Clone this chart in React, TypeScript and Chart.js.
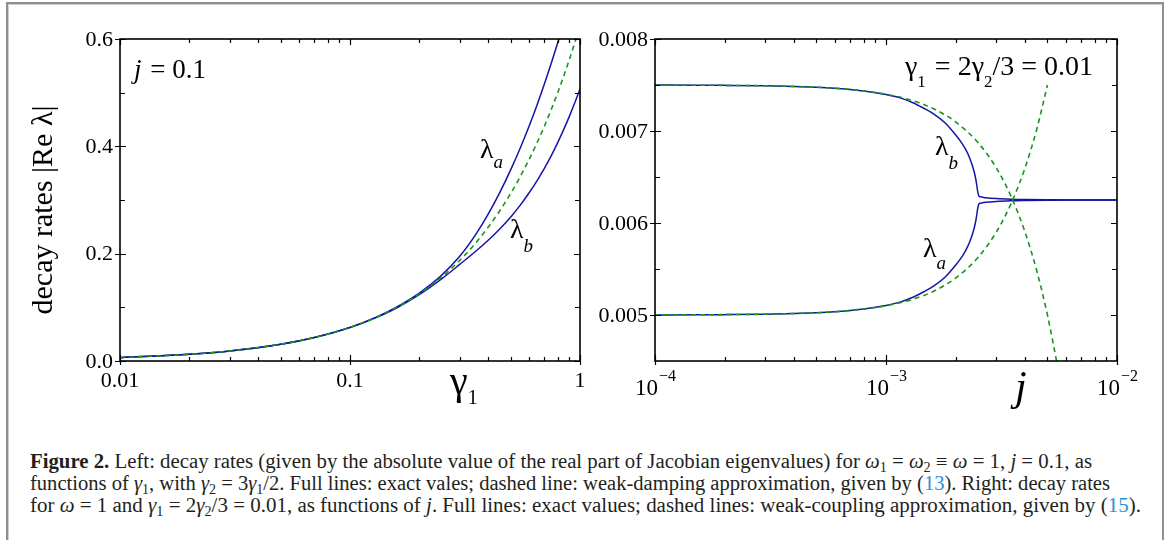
import React, { useEffect, useLayoutEffect, useRef } from "react";
import { Chart, registerables } from "chart.js";
Chart.register(...registerables);

const SERIF = "'Liberation Serif','Times New Roman',serif";

// ---------------- Left panel data (j = 0.1) ----------------
const gammaValues = [0.01, 0.02, 0.03, 0.05, 0.07, 0.1, 0.13, 0.16, 0.2, 0.25, 0.3, 0.35, 0.4, 0.45, 0.5, 0.55, 0.6, 0.65, 0.7, 0.75, 0.8, 0.85, 0.9, 0.95, 1.0];
const lambdaALeft = [0.00625, 0.0125, 0.01875, 0.0313, 0.0438, 0.0627, 0.0817, 0.1008, 0.1265, 0.1595, 0.195, 0.234, 0.2745, 0.3155, 0.3565, 0.397, 0.437, 0.4767, 0.516, 0.5547, 0.593, 0.631, 0.669, 0.7063, 0.743];
const lambdaBLeft = [0.00625, 0.0125, 0.01875, 0.0312, 0.0437, 0.0623, 0.0808, 0.0992, 0.1235, 0.153, 0.18, 0.2035, 0.2255, 0.247, 0.2685, 0.2905, 0.313, 0.3358, 0.359, 0.3828, 0.407, 0.4315, 0.4563, 0.4815, 0.507];
const dampingApprox = [0.00625, 0.0125, 0.01875, 0.03125, 0.04375, 0.0625, 0.08125, 0.1, 0.125, 0.15625, 0.1875, 0.21875, 0.25, 0.28125, 0.3125, 0.34375, 0.375, 0.40625, 0.4375, 0.46875, 0.5, 0.53125, 0.5625, 0.59375, 0.625];
const leftYTicks = [0, 0.2, 0.4, 0.6];
const leftYMinor = [0.1, 0.3, 0.5];
const leftXTicks = [0.01, 0.1, 1];
const leftXLabels = ["0.01", "0.1", "1"];

// ---------------- Right panel data (gamma1 = 0.01) ----------------
const jValues = [1e-4, 1.5e-4, 2e-4, 3e-4, 4e-4, 5e-4, 6e-4, 7e-4, 8e-4, 1e-3, 1.15e-3, 1.3e-3, 1.45e-3, 1.6e-3, 1.8e-3, 2.0e-3, 2.1e-3, 2.2e-3, 2.3e-3, 2.4e-3, 2.45e-3, 2.5e-3, 2.53e-3, 2.6e-3, 2.7e-3, 3e-3, 3.5e-3, 4e-3, 5e-3, 7e-3, 1e-2];
const lambdaBRight = [0.007499, 0.007498, 0.007496, 0.007491, 0.007484, 0.007475, 0.007464, 0.00745, 0.007435, 0.007396, 0.00736, 0.00731, 0.00725, 0.00719, 0.00709, 0.00696, 0.00689, 0.00681, 0.00671, 0.00657, 0.00647, 0.00633, 0.00629, 0.006282, 0.006275, 0.006265, 0.006258, 0.006255, 0.006252, 0.00625, 0.00625];
const lambdaARight = [0.005001, 0.005002, 0.005004, 0.005009, 0.005016, 0.005025, 0.005036, 0.00505, 0.005065, 0.005104, 0.00514, 0.00519, 0.00525, 0.00531, 0.00541, 0.00554, 0.00561, 0.00569, 0.00579, 0.00593, 0.00603, 0.00617, 0.00621, 0.006218, 0.006225, 0.006235, 0.006242, 0.006245, 0.006248, 0.00625, 0.00625];
const jApproxUpper = [1e-4, 2e-4, 3e-4, 5e-4, 7e-4, 1e-3, 1.3e-3, 1.6e-3, 2e-3, 2.5e-3, 3e-3, 3.5e-3, 4e-3, 4.5e-3, 5e-3, 5.5e-3];
const couplingApproxUpper = [0.007499, 0.007496, 0.007491, 0.007475, 0.007451, 0.0074, 0.007331, 0.007244, 0.0071, 0.006875, 0.0066, 0.006275, 0.0059, 0.005475, 0.005, 0.004475];
const jApproxLower = [1e-4, 2e-4, 3e-4, 5e-4, 7e-4, 1e-3, 1.3e-3, 1.6e-3, 2e-3, 2.5e-3, 3e-3, 3.5e-3, 4e-3, 4.5e-3, 5e-3];
const couplingApproxLower = [0.005001, 0.005004, 0.005009, 0.005025, 0.005049, 0.0051, 0.005169, 0.005256, 0.0054, 0.005625, 0.0059, 0.006225, 0.0066, 0.007025, 0.0075];
const rightYTicks = [0.005, 0.006, 0.007, 0.008];
const rightYMinor = [0.0055, 0.0065, 0.0075];
const rightXTicks = [1e-4, 1e-3, 1e-2];
const rightXExponents = ["\u22124", "\u22123", "\u22122"];

const BLUE = "#1414a8";
const GREEN = "#17961b";

function logMinors(min: number, max: number): number[] {
  const out: number[] = [];
  for (let d = min; d < max * 0.999; d *= 10) {
    for (let k = 2; k <= 9; k++) out.push(d * k);
  }
  return out;
}

function pts(xs: number[], ys: number[]) {
  return xs.map((x, i) => ({ x, y: ys[i] }));
}

function drawFrame(chart: any, xMajor: number[], xMinor: number[], yMajor: number[], yMinor: number[]) {
  const { ctx, chartArea: a, scales } = chart;
  const xs = scales.x, ys = scales.y;
  ctx.save();
  ctx.strokeStyle = "#000";
  ctx.lineWidth = 1.2;
  ctx.beginPath();
  for (const v of xMajor) {
    const p = Math.round(xs.getPixelForValue(v)) + 0.5;
    ctx.moveTo(p, a.bottom + 4); ctx.lineTo(p, a.bottom - 6);
    ctx.moveTo(p, a.top); ctx.lineTo(p, a.top + 6);
  }
  for (const v of xMinor) {
    const p = Math.round(xs.getPixelForValue(v)) + 0.5;
    ctx.moveTo(p, a.bottom); ctx.lineTo(p, a.bottom - 4);
    ctx.moveTo(p, a.top); ctx.lineTo(p, a.top + 4);
  }
  for (const v of yMajor) {
    const p = Math.round(ys.getPixelForValue(v)) + 0.5;
    ctx.moveTo(a.left - 5, p); ctx.lineTo(a.left + 6, p);
    ctx.moveTo(a.right, p); ctx.lineTo(a.right - 6, p);
  }
  for (const v of yMinor) {
    const p = Math.round(ys.getPixelForValue(v)) + 0.5;
    ctx.moveTo(a.left, p); ctx.lineTo(a.left + 5, p);
    ctx.moveTo(a.right, p); ctx.lineTo(a.right - 5, p);
  }
  ctx.stroke();
  ctx.lineWidth = 1.6;
  ctx.strokeRect(a.left, a.top, a.right - a.left, a.bottom - a.top);
  ctx.restore();
}

type Part = { t: string; size: number; italic?: boolean; dy?: number; gap?: number };
function drawSeq(ctx: CanvasRenderingContext2D, x: number, base: number, parts: Part[]) {
  ctx.save();
  ctx.fillStyle = "#000";
  ctx.textAlign = "left";
  ctx.textBaseline = "alphabetic";
  let cx = x;
  for (const p of parts) {
    ctx.font = `${p.italic ? "italic " : ""}${p.size}px ${SERIF}`;
    ctx.fillText(p.t, cx, base + (p.dy || 0));
    cx += ctx.measureText(p.t).width + (p.gap || 0);
  }
  ctx.restore();
  return cx;
}

const leftDecor = {
  id: "leftDecor",
  afterDraw(chart: any) {
    const { ctx, chartArea: a, scales } = chart;
    const xs = scales.x, ys = scales.y;
    drawFrame(chart, leftXTicks, logMinors(0.01, 1), leftYTicks, leftYMinor);
    ctx.save();
    ctx.fillStyle = "#000";
    ctx.font = `22px ${SERIF}`;
    ctx.textAlign = "right";
    ctx.textBaseline = "middle";
    leftYTicks.forEach((v) => ctx.fillText(v.toFixed(1), a.left - 7, ys.getPixelForValue(v) + 1));
    ctx.textAlign = "center";
    ctx.textBaseline = "alphabetic";
    leftXTicks.forEach((v, i) => ctx.fillText(leftXLabels[i], xs.getPixelForValue(v), a.bottom + 26));
    ctx.translate(44, (a.top + a.bottom) / 2 + 10);
    ctx.rotate(-Math.PI / 2);
    ctx.font = `30px ${SERIF}`;
    ctx.textBaseline = "middle";
    ctx.fillText("decay rates |Re \u03bb|", 0, 0);
    ctx.restore();
    drawSeq(ctx, 134, 78, [
      { t: "j", size: 27, italic: true, gap: 2 },
      { t: " = 0.1", size: 27 },
    ]);
    drawSeq(ctx, 480, 158, [{ t: "\u03bb", size: 28 }, { t: "a", size: 19, italic: true, dy: 10 }]);
    drawSeq(ctx, 510, 238, [{ t: "\u03bb", size: 28 }, { t: "b", size: 19, italic: true, dy: 14 }]);
    drawSeq(ctx, 450, 394, [{ t: "\u03b3", size: 40 }, { t: "1", size: 20, dy: 10 }]);
  },
};

const rightDecor = {
  id: "rightDecor",
  afterDraw(chart: any) {
    const { ctx, chartArea: a, scales } = chart;
    const xs = scales.x, ys = scales.y;
    drawFrame(chart, rightXTicks, logMinors(1e-4, 1e-2), rightYTicks, rightYMinor);
    ctx.save();
    ctx.fillStyle = "#000";
    ctx.font = `22px ${SERIF}`;
    ctx.textAlign = "right";
    ctx.textBaseline = "middle";
    rightYTicks.forEach((v) => ctx.fillText(v.toFixed(3), a.left - 7, ys.getPixelForValue(v) + 1));
    ctx.textBaseline = "alphabetic";
    rightXTicks.forEach((v, i) => {
      const p = xs.getPixelForValue(v);
      ctx.textAlign = "right";
      ctx.font = `23px ${SERIF}`;
      ctx.fillText("10", p + 3, a.bottom + 34);
      ctx.textAlign = "left";
      ctx.font = `16px ${SERIF}`;
      ctx.fillText(rightXExponents[i], p + 4, a.bottom + 20);
    });
    ctx.restore();
    drawSeq(ctx, 425, 400, [{ t: "j", size: 42, italic: true }]);
    drawSeq(ctx, 315, 75, [
      { t: "\u03b3", size: 28 },
      { t: "1", size: 17, dy: 12, gap: 2 },
      { t: " = 2", size: 28 },
      { t: "\u03b3", size: 28 },
      { t: "2", size: 17, dy: 12 },
      { t: "/3 = 0.01", size: 28 },
    ]);
    drawSeq(ctx, 345, 155, [{ t: "\u03bb", size: 28 }, { t: "b", size: 19, italic: true, dy: 14 }]);
    drawSeq(ctx, 333, 257, [{ t: "\u03bb", size: 28 }, { t: "a", size: 19, italic: true, dy: 12 }]);
  },
};

function lineDs(data: any[], color: string, dashed: boolean) {
  return {
    data,
    borderColor: color,
    borderWidth: dashed ? 1.6 : 1.5,
    borderDash: dashed ? [5, 4] : [],
    pointRadius: 0,
    fill: false,
    cubicInterpolationMode: "monotone",
    clip: 0,
  };
}

function makeChart(canvas: HTMLCanvasElement, datasets: any[], xScale: any, yScale: any, padding: any, plugin: any) {
  return new Chart(canvas, {
    type: "line",
    data: { datasets },
    options: {
      animation: false,
      responsive: false,
      devicePixelRatio: 1,
      events: [],
      layout: { padding },
      plugins: { legend: { display: false }, tooltip: { enabled: false } },
      scales: { x: { ...xScale, display: false }, y: { ...yScale, display: false } },
    } as any,
    plugins: [plugin],
  } as any);
}

const captionLines = [
  { top: 450, width: 1062 },
  { top: 472, width: 1080 },
  { top: 494, width: 1111 },
];

const Sub = ({ children }: any) => (
  <sub style={{ fontSize: "68%", verticalAlign: "-0.28em", lineHeight: 0 }}>{children}</sub>
);
const Cite = ({ children }: any) => <span style={{ color: "#2f8fd4" }}>{children}</span>;
const M = ({ children }: any) => <i>{children}</i>;

export default function App() {
  const leftRef = useRef<HTMLCanvasElement>(null);
  const rightRef = useRef<HTMLCanvasElement>(null);
  const lineRefs = [useRef<HTMLDivElement>(null), useRef<HTMLDivElement>(null), useRef<HTMLDivElement>(null)];

  useEffect(() => {
    const c1 = makeChart(
      leftRef.current!,
      [
        lineDs(pts(gammaValues, dampingApprox), GREEN, true),
        lineDs(pts(gammaValues, lambdaALeft), BLUE, false),
        lineDs(pts(gammaValues, lambdaBLeft), BLUE, false),
      ],
      { type: "logarithmic", min: 0.01, max: 1 },
      { type: "linear", min: 0, max: 0.6 },
      { left: 120, top: 39, right: 10, bottom: 59 },
      leftDecor
    );
    const c2 = makeChart(
      rightRef.current!,
      [
        lineDs(pts(jApproxUpper, couplingApproxUpper), GREEN, true),
        lineDs(pts(jApproxLower, couplingApproxLower), GREEN, true),
        lineDs(pts(jValues, lambdaBRight), BLUE, false),
        lineDs(pts(jValues, lambdaARight), BLUE, false),
      ],
      { type: "logarithmic", min: 1e-4, max: 1e-2 },
      { type: "linear", min: 0.0045, max: 0.008 },
      { left: 65, top: 39, right: 53, bottom: 59 },
      rightDecor
    );
    return () => {
      c1.destroy();
      c2.destroy();
    };
  }, []);

  useLayoutEffect(() => {
    lineRefs.forEach((r, i) => {
      const el = r.current;
      if (!el) return;
      el.style.transform = "none";
      const w = el.getBoundingClientRect().width;
      el.style.transform = `scaleX(${captionLines[i].width / w})`;
    });
  }, []);

  const lineStyle = (i: number): React.CSSProperties => ({
    position: "absolute",
    left: 30,
    top: captionLines[i].top,
    whiteSpace: "nowrap",
    fontFamily: SERIF,
    fontSize: 20,
    lineHeight: "22px",
    color: "#231f20",
    transformOrigin: "0 0",
  });

  return (
    <div style={{ position: "absolute", left: 0, top: 0, width: 1170, height: 540, overflow: "hidden", background: "#fff" }}>
      <div
        style={{
          position: "absolute",
          left: 6,
          top: 2,
          width: 1154,
          height: 600,
          border: "2px solid #8f8f8f",
          boxShadow: "inset 1px 1px 0 #d0d0d0",
        }}
      />
      <canvas ref={leftRef} width={590} height={420} style={{ position: "absolute", left: 0, top: 0, width: 590, height: 420 }} />
      <canvas ref={rightRef} width={580} height={420} style={{ position: "absolute", left: 590, top: 0, width: 580, height: 420 }} />
      <div ref={lineRefs[0]} style={lineStyle(0)}>
        <b>Figure 2.</b> Left: decay rates (given by the absolute value of the real part of Jacobian eigenvalues) for{" "}
        <M>ω</M><Sub>1</Sub> = <M>ω</M><Sub>2</Sub> ≡ <M>ω</M> = 1, <M>j</M> = 0.1, as
      </div>
      <div ref={lineRefs[1]} style={lineStyle(1)}>
        functions of <M>γ</M><Sub>1</Sub>, with <M>γ</M><Sub>2</Sub> = 3<M>γ</M><Sub>1</Sub>/2. Full lines: exact vales; dashed line:
        weak-damping approximation, given by (<Cite>13</Cite>). Right: decay rates
      </div>
      <div ref={lineRefs[2]} style={lineStyle(2)}>
        for <M>ω</M> = 1 and <M>γ</M><Sub>1</Sub> = 2<M>γ</M><Sub>2</Sub>/3 = 0.01, as functions of <M>j</M>. Full lines: exact values;
        dashed lines: weak-coupling approximation, given by (<Cite>15</Cite>).
      </div>
    </div>
  );
}
